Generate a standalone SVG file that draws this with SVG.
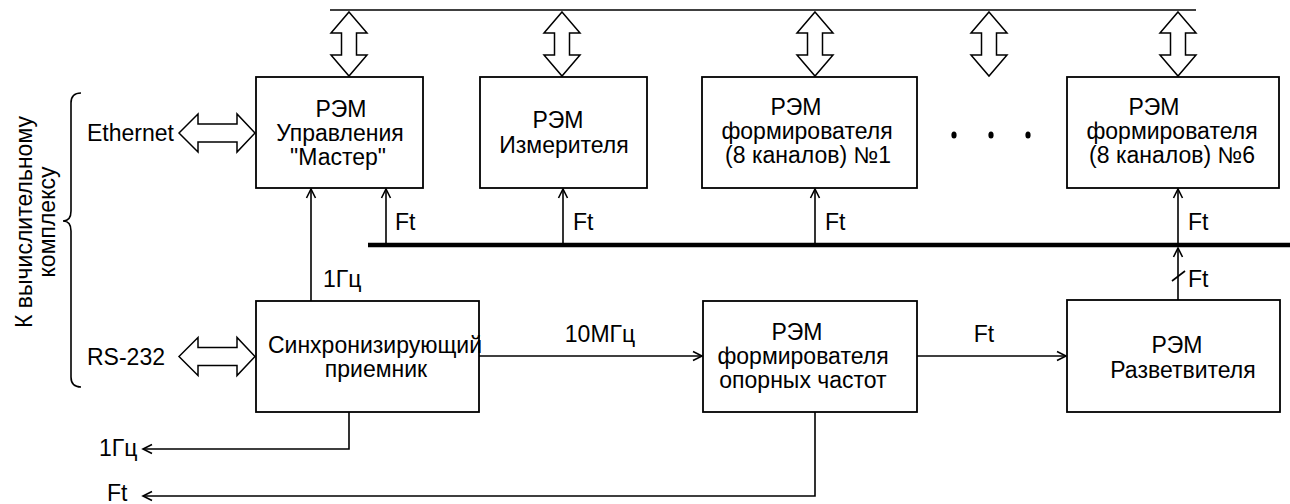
<svg xmlns="http://www.w3.org/2000/svg" width="1290" height="504" viewBox="0 0 1290 504">
<style>
text{font-family:"Liberation Sans",Arial,sans-serif;font-size:23px;fill:#000}
.c{text-anchor:middle}
.box{fill:#fff;stroke:#000;stroke-width:1.8}
.dbl{fill:#fff;stroke:#000;stroke-width:1.5;stroke-linejoin:miter}
.ln{fill:none;stroke:#000;stroke-width:1.6}
.arr{marker-end:url(#ah)}
</style>
<defs>
<marker id="ah" markerUnits="userSpaceOnUse" markerWidth="14" markerHeight="12" viewBox="-11 -6 12 12" refX="0" refY="0" orient="auto">
<path d="M-9,-4.5 L0,0 L-9,4.5" fill="none" stroke="#000" stroke-width="1.6"/>
</marker>
</defs>
<rect width="1290" height="504" fill="#fff"/>

<g id="connectors">
<line class="ln" x1="330" y1="10" x2="1196" y2="10"/>
<line x1="368" y1="245" x2="1290" y2="245" stroke="#000" stroke-width="4.7"/>
<polygon class="dbl" points="349,12 367,33 356.5,33 356.5,55 367,55 349,76 331,55 341.5,55 341.5,33 331,33"/>
<polygon class="dbl" points="562,12 580,33 569.5,33 569.5,55 580,55 562,76 544,55 554.5,55 554.5,33 544,33"/>
<polygon class="dbl" points="815,12 833,33 822.5,33 822.5,55 833,55 815,76 797,55 807.5,55 807.5,33 797,33"/>
<polygon class="dbl" points="989,12 1007,33 996.5,33 996.5,55 1007,55 989,76 971,55 981.5,55 981.5,33 971,33"/>
<polygon class="dbl" points="1178,12 1196,33 1185.5,33 1185.5,55 1196,55 1178,76 1160,55 1170.5,55 1170.5,33 1160,33"/>
<polygon class="dbl" points="179,133 198,114 198,124 237,124 237,114 255,133 237,152 237,142 198,142 198,152"/>
<polygon class="dbl" points="179,356.5 198,337.5 198,347.5 237,347.5 237,337.5 255,356.5 237,375.5 237,365.5 198,365.5 198,375.5"/>
<line class="ln arr" x1="311" y1="301" x2="311" y2="189"/>
<line class="ln arr" x1="386" y1="245" x2="386" y2="189"/>
<line class="ln arr" x1="563" y1="245" x2="563" y2="189"/>
<line class="ln arr" x1="815" y1="245" x2="815" y2="189"/>
<line class="ln arr" x1="1178" y1="245" x2="1178" y2="189"/>
<line class="ln arr" x1="1178" y1="300" x2="1178" y2="248"/>
<line class="ln" x1="1172" y1="281" x2="1185" y2="271"/>
<line class="ln arr" x1="479" y1="356" x2="702" y2="356"/>
<line class="ln arr" x1="917" y1="356" x2="1066" y2="356"/>
<polyline class="ln arr" points="349,412 349,449 143,449"/>
<polyline class="ln arr" points="815,412 815,496 143,496"/>
<path class="ln" d="M81,93 Q71,93 71,103 L71,211 Q71,221 63,221 Q71,221 71,231 L71,377 Q71,387 81,387"/>
<ellipse cx="954" cy="135" rx="2.6" ry="3.6"/>
<ellipse cx="991" cy="135" rx="2.6" ry="3.6"/>
<ellipse cx="1028" cy="135" rx="2.6" ry="3.6"/>
</g>

<g id="labels">
<text x="87" y="141">Ethernet</text>
<text x="87" y="365">RS-232</text>
<text class="c" transform="translate(32,222) rotate(-90)">К вычислительному</text>
<text class="c" transform="translate(55,222) rotate(-90)">комплексу</text>
<text x="395" y="230">Ft</text>
<text x="573" y="230">Ft</text>
<text x="825" y="230">Ft</text>
<text x="1188" y="230">Ft</text>
<text x="1188" y="287">Ft</text>
<text x="323" y="287">1Гц</text>
<text class="c" x="600" y="342">10МГц</text>
<text class="c" x="984" y="342">Ft</text>
<text x="99" y="456">1Гц</text>
<text x="107" y="501">Ft</text>
</g>

<g id="master">
<rect class="box" x="256" y="77" width="167" height="111"/>
<text class="c" x="341" y="117">РЭМ</text>
<text class="c" x="340" y="141">Управления</text>
<text class="c" x="338" y="165">"Мастер"</text>
</g>
<g id="meter">
<rect class="box" x="480" y="77" width="167" height="111"/>
<text class="c" x="558" y="128">РЭМ</text>
<text class="c" x="564" y="153">Измерителя</text>
</g>
<g id="former1">
<rect class="box" x="702" y="77" width="215" height="111"/>
<text class="c" x="796" y="115">РЭМ</text>
<text class="c" x="807" y="139">формирователя</text>
<text class="c" x="808" y="163">(8 каналов) №1</text>
</g>
<g id="former6">
<rect class="box" x="1067" y="77" width="212" height="111"/>
<text class="c" x="1154" y="115">РЭМ</text>
<text class="c" x="1172" y="139">формирователя</text>
<text class="c" x="1172" y="163">(8 каналов) №6</text>
</g>
<g id="sync">
<rect class="box" x="256" y="301" width="223" height="111"/>
<text class="c" x="375" y="353">Синхронизирующий</text>
<text class="c" x="376" y="377">приемник</text>
</g>
<g id="refgen">
<rect class="box" x="703" y="301" width="214" height="111"/>
<text class="c" x="797" y="340">РЭМ</text>
<text class="c" x="803" y="364">формирователя</text>
<text class="c" x="803" y="388">опорных частот</text>
</g>
<g id="splitter">
<rect class="box" x="1067" y="300" width="213" height="112"/>
<text class="c" x="1177" y="353">РЭМ</text>
<text class="c" x="1183" y="378">Разветвителя</text>
</g>
</svg>
